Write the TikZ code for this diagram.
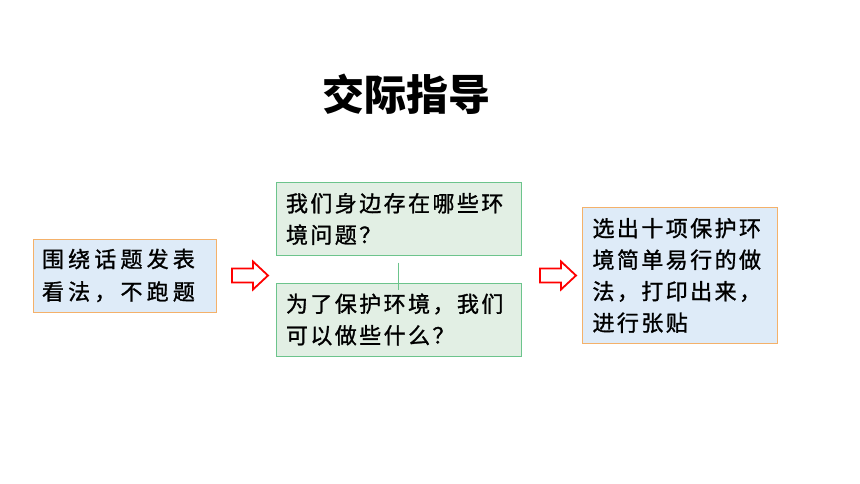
\documentclass[tikz,border=0pt]{standalone}
\usepackage{fontspec}
\newfontfamily\cjk[LetterSpace=11, FakeBold=1.2]{Noto Sans CJK SC}
\newfontfamily\cjkwide[LetterSpace=19, FakeBold=1.2]{Noto Sans CJK SC}
\newfontfamily\cjktitle{Noto Sans CJK SC}
\usetikzlibrary{calc}
\definecolor{boxblue}{HTML}{DEEBF8}
\definecolor{boxorange}{HTML}{F4B16A}
\definecolor{boxgreen}{HTML}{E2EFE4}
\definecolor{linegreen}{HTML}{6CC48C}
\begin{document}
\begin{tikzpicture}[x=1pt,y=-1pt,
	textbox/.style={align=left, inner xsep=10pt, inner ysep=0pt, line width=1pt,
		font=\cjk\fontsize{22}{31.5}\selectfont},
	bluebox/.style={textbox, draw=boxorange, fill=boxblue},
	greenbox/.style={textbox, draw=linegreen, fill=boxgreen, minimum width=245pt, minimum height=73pt, text width=225pt},
	hollow/.style={draw=red, fill=white, line width=1.8pt, line join=miter}]
	\useasboundingbox (0,0) rectangle (860,484);
	% title
	\node[font=\cjktitle\bfseries\fontsize{42}{42}\selectfont] (title) at (406,94) {交际指导};
	% boxes
	\node[bluebox, font=\cjkwide\fontsize{22}{32.5}\selectfont, minimum width=183pt, minimum height=73pt, text width=165pt, inner xsep=9pt] (topic) at (124.5,275.5) {围绕话题发表\\看法，不跑题};
	\node[greenbox] (q1) at (398.5,219) {我们身边存在哪些环\\境问题？};
	\node[greenbox] (q2) at (398.5,319.5) {为了保护环境，我们\\可以做些什么？};
	\node[bluebox, minimum width=195pt, minimum height=136pt, text width=175pt] (task) at (680,275.5) {选出十项保护环\\境简单易行的做\\法，打印出来，\\进行张贴};
	% link
	\draw[linegreen, line width=1pt] ($(q1.south)+(0,6.5)$) -- ($(q2.north)+(0,7)$);
	% arrows
	\foreach \ax in {232,540}
		\draw[hollow, shift={(\ax,275.5)}] (0,-7) -- (21,-7) -- (21,-14) -- (36,0) -- (21,14) -- (21,7) -- (0,7) -- cycle;
\end{tikzpicture}
\end{document}
